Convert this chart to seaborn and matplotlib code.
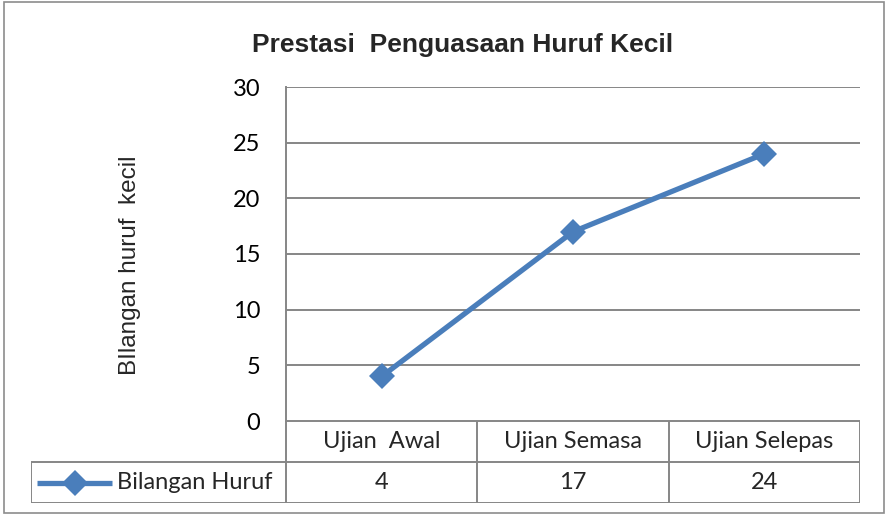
import matplotlib
matplotlib.use("Agg")
import matplotlib.pyplot as plt
import seaborn as sns
from matplotlib.patches import Rectangle
from matplotlib.lines import Line2D

# data
categories = ["Ujian  Awal", "Ujian Semasa", "Ujian Selepas"]
series_name = "Bilangan Huruf"
values = [4, 17, 24]
y_ticks = [0, 5, 10, 15, 20, 25, 30]

title = "Prestasi  Penguasaan Huruf Kecil"
y_label = "BIlangan huruf  kecil"

LINE_COLOR = "#4a7ebb"
GRID_COLOR = "#868686"
W, H = 885, 516
FS = 17

sns.set_style("white")
plt.rcParams["font.family"] = ["Lato", "DejaVu Sans"]

fig = plt.figure(figsize=(W / 100, H / 100), dpi=100)


def px_box(x0, y0, x1, y1):
    """pixel box (top-left origin) -> figure fraction rect"""
    return [x0 / W, 1 - y1 / H, (x1 - x0) / W, (y1 - y0) / H]


# main plot area
ax = fig.add_axes(px_box(286, 87, 860, 421))
sns.lineplot(x=list(range(len(categories))), y=values, ax=ax, color=LINE_COLOR,
             linewidth=3.8, marker="D", markersize=13, markeredgewidth=0,
             clip_on=False, zorder=5)
ax.set_xlim(-0.5, len(categories) - 0.5)
ax.set_ylim(0, 30)
ax.set_yticks(y_ticks)
ax.set_xticks([])
ax.yaxis.grid(True, color=GRID_COLOR, linewidth=1.4)
ax.set_axisbelow(True)
for side in ["top", "right", "bottom"]:
    ax.spines[side].set_visible(False)
ax.spines["left"].set_color(GRID_COLOR)
ax.spines["left"].set_linewidth(1.4)
ax.tick_params(axis="y", length=0, pad=18.5, labelsize=FS, labelcolor="black")
ax.set_xlabel("")
ax.set_ylabel("")

# data table below the plot
left_units = 255 / 191.3
tax = fig.add_axes(px_box(31, 421, 860, 503))
tax.set_xlim(-0.5 - left_units, len(categories) - 0.5)
tax.set_ylim(2, 0)
tax.axis("off")
lkw = dict(color=GRID_COLOR, linewidth=1.4, solid_capstyle="butt")
x_edges = [i - 0.5 for i in range(len(categories) + 1)]
tax.plot([-0.5, x_edges[-1]], [0, 0], **lkw)
tax.plot([-0.5 - left_units, x_edges[-1]], [1, 1], **lkw)
tax.plot([-0.5 - left_units, x_edges[-1]], [2, 2], **lkw)
for xe in x_edges:
    tax.plot([xe, xe], [0, 2], **lkw)
tax.plot([-0.5 - left_units] * 2, [1, 2], **lkw)
for i, (cat, v) in enumerate(zip(categories, values)):
    tax.text(i, 0.5, cat, ha="center", va="center", fontsize=FS)
    tax.text(i, 1.5, str(v), ha="center", va="center", fontsize=FS)

# legend key inside the table
key_x0 = -0.5 - left_units + 6 / 191.3
key_x1 = key_x0 + 75 / 191.3
tax.add_line(Line2D([key_x0, key_x1], [1.5, 1.5], color=LINE_COLOR, linewidth=3.8,
                    solid_capstyle="butt"))
tax.plot([(key_x0 + key_x1) / 2], [1.5], marker="D", markersize=13,
         color=LINE_COLOR, markeredgewidth=0)
tax.text(key_x1 + 5 / 191.3, 1.5, series_name, ha="left", va="center", fontsize=FS)

# title and axis label
fig.text(463 / W, 1 - 45 / H, title, ha="center", va="center",
         fontsize=19, fontweight="bold", family="Liberation Sans")
fig.text(130 / W, 1 - 265 / H, y_label, ha="center", va="center",
         rotation=90, fontsize=17.5, family="Liberation Sans")

# chart border
fig.patches.append(Rectangle((4 / W, 1 - 513 / H), 880 / W, 511 / H,
                             transform=fig.transFigure, fill=False,
                             edgecolor="#8c8c8c", linewidth=1.2))

fig.savefig("out.png", dpi=100)
